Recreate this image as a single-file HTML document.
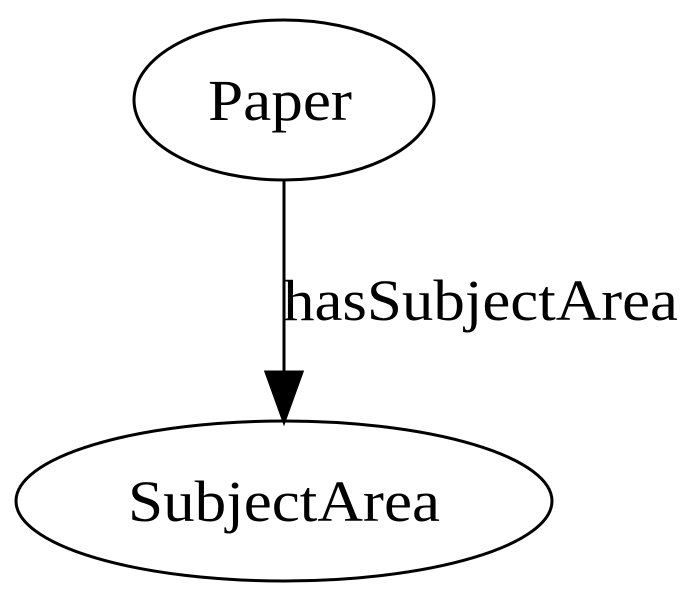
<!DOCTYPE html>
<html><head><meta charset="utf-8"><style>html,body{margin:0;padding:0;background:#fff}svg{display:block}</style></head>
<body>
<svg width="700" height="601" viewBox="0 0 700 601" xmlns="http://www.w3.org/2000/svg">
<g fill="none" stroke="#000" stroke-width="3">
<ellipse cx="284" cy="100" rx="150" ry="80"/>
<ellipse cx="284" cy="501" rx="268" ry="80"/>
<line x1="284" y1="180" x2="284" y2="375"/>
</g>
<polygon points="266,372 302,372 284,422" fill="#000" stroke="#000" stroke-width="3"/>
<g font-family="Liberation Serif, serif" font-size="58" fill="#000">
<text x="208" y="120" textLength="144" lengthAdjust="spacingAndGlyphs">Paper</text>
<text x="128" y="521" textLength="312" lengthAdjust="spacingAndGlyphs">SubjectArea</text>
<text x="283" y="320" textLength="395" lengthAdjust="spacingAndGlyphs">hasSubjectArea</text>
</g>
</svg>
</body></html>
